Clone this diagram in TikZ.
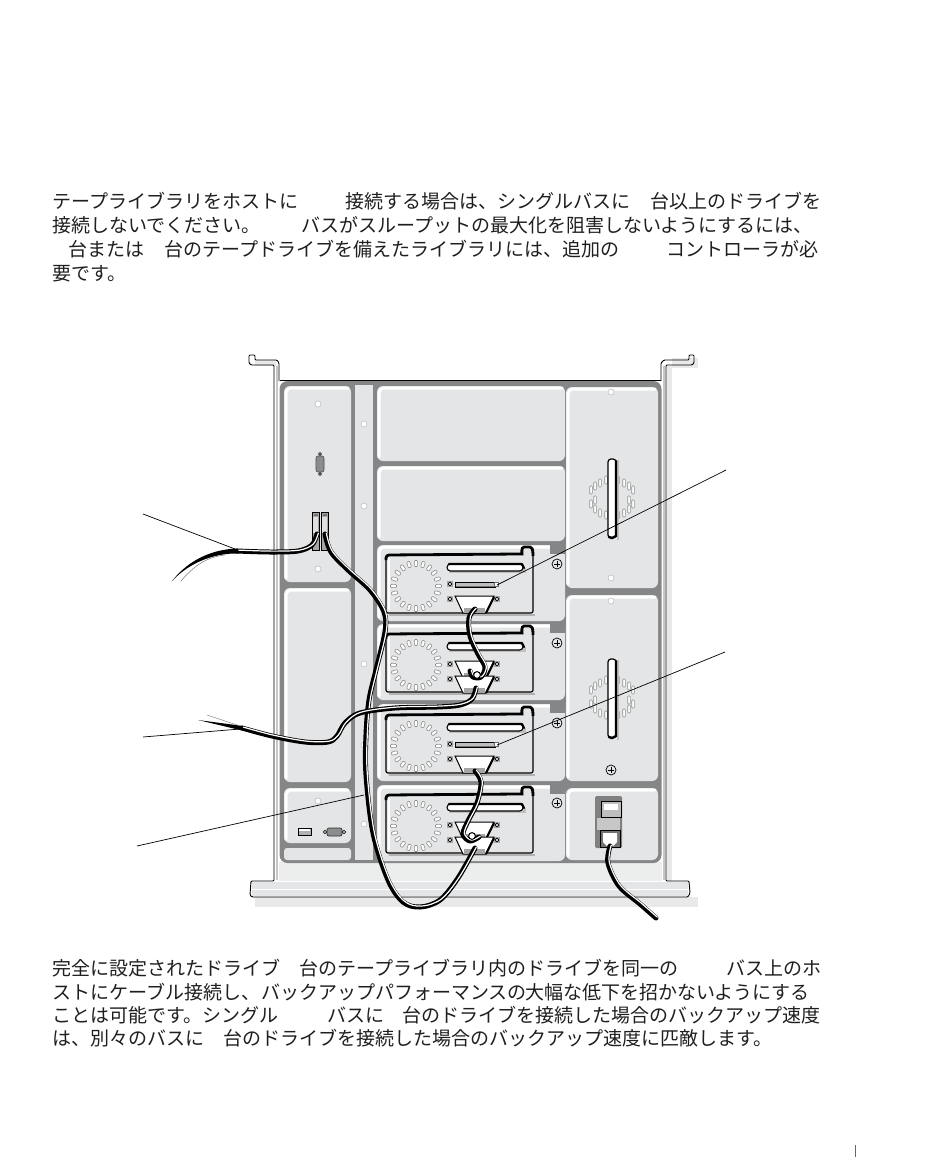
\documentclass[tikz,border=0pt]{standalone}
\usepackage{fontspec}
\newfontfamily\jp{Noto Sans CJK JP}
\definecolor{panelc}{HTML}{E4E5E6}
\definecolor{basec}{HTML}{858687}
\definecolor{shadowc}{HTML}{E9E9E9}
\tikzset{
  x=1pt,y=-1pt,
  txt/.style={inner sep=0,anchor=base west,font=\jp\fontsize{19}{19}\selectfont,text=black!88},
  leader/.style={draw=black,line width=.7},
  hole/.style={fill=white,draw=black!25,line width=.6},
  fanblock/.style={fill=white,draw=black!45,line width=.6,rounded corners=.8},
  cableb/.style={draw=black,line width=5,line cap=round,line join=round},
  cablew/.style={draw=white,line width=1.2,line cap=round,line join=round},
  port/.style={fill=black!35,draw=black,line width=.6},
}
\newcommand{\panelbox}[4]{%
  \fill[panelc,rounded corners=6] (#1,#2) rectangle (#3,#4);
  \draw[white,line width=3,rounded corners=5,line cap=round]
    (#1+2,#4-4) -- (#1+2,#2+2) -- (#3-3,#2+2);
}
\newcommand{\cablepath}[1]{%
  \draw[cableb] plot[smooth,tension=.55] coordinates {#1};
  \begin{scope}[shift={(1.3,-.9)}]
    \draw[cablew] plot[smooth,tension=.55] coordinates {#1};
  \end{scope}
}
\newcommand{\plusscrew}[2]{%
  \draw[fill=panelc,draw=black,line width=.7] (#1,#2) circle (5);
  \draw[black,line width=.7] (#1-2.8,#2) -- (#1+2.8,#2) (#1,#2-2.8) -- (#1,#2+2.8);
}
\newcommand{\smallscrew}[2]{%
  \fill[black!35] (#1-3.4,#2-3.4) rectangle (#1+3.4,#2+3.4);
  \draw[fill=white,draw=black,line width=.6] (#1,#2) circle (1.9);
}
\newcommand{\trapconn}[1]{% y of top
  \smallscrew{450}{#1+3}\smallscrew{497}{#1+3}
  \draw[fill=white,draw=black,line width=1] (455,#1) -- (494,#1) -- (486,#1+17) -- (463,#1+17) -- cycle;
  \fill[black!35] (464,#1+12) rectangle (485,#1+16.5);
  \draw[black,line width=2.2] (494,#1+1) -- (486,#1+17);
}
\newcommand{\drivebay}[2]{% top of bay, bottom
  \panelbox{377}{#1}{565}{#2}
  \fill[basec] (550,#1) -- (565,#1) -- (565,#1+9) -- (550,#1+9) -- cycle;
}
\newcommand{\drive}[2]{% y offset, kind (1 = slot, 2 = two connectors)
  \begin{scope}[shift={(0,#1)}]
    \fill[black!30] (389,614) rectangle (535,616);
    \draw[fill=panelc,draw=black,line width=1.2,rounded corners=2]
       (386,556) -- (386,613) -- (533,613) -- (533,552);
    \draw[black,line width=2.8,rounded corners=3]
       (386,560) -- (386,555) -- (519,554) .. controls (522,554) and (521,547) .. (527,547)
       .. controls (532,547) and (533,549) .. (533,556);
    \fill[white] (388,558) rectangle (389.5,610);
    \foreach \a in {0,18,...,342}{
      \begin{scope}[shift={(416,586)},rotate=\a]
        \draw[fanblock] (19.5,-1.6) rectangle (25.5,1.6);
      \end{scope}
    }
    \fill[black!25] (449,568) rectangle (526,573);
    \draw[fill=white,draw=black,line width=1.1,rounded corners=3.5] (447,564) rectangle (523,571);
    \draw[black,line width=2.2,line cap=round] (449,564) -- (522,564) (522,564) -- (524,568);
    \ifnum#2=1
      \smallscrew{450}{584}
      \draw[fill=black!25,draw=black,line width=1] (455,582) rectangle (495,587);
      \fill[black!55] (456,585.6) rectangle (494,586.5);
      \draw[draw=black!60,fill=white,line width=.5] (494,582.5) rectangle (498,586.5);
      \trapconn{596}
    \else
      \trapconn{582}
      \trapconn{597}
    \fi
  \end{scope}
}
\newcommand{\sidefan}[2]{% center x,y
  \begin{scope}[shift={(#1,#2)}]
    \foreach \dx/\dy in {-21/-8,-21/6,-17/-12,-17/2,-17/11,-12/-15,-12/15,-6/-18,-6/17,
                         21/-8,21/6,17/-12,17/2,17/11,12/-15,12/15,6/-18,6/17}{
      \draw[fanblock] (\dx-1.3,\dy-4) rectangle (\dx+1.3,\dy+4);
    }
    \fill[black!25] (5,-38) rectangle (6.5,42);
    \draw[fill=white,draw=black,line width=1.2,rounded corners=3] (-4,-39) rectangle (4,40);
    \draw[black,line width=2.4,line cap=round] (4,-37) -- (4,38) -- (0,40) -- (-3,39);
  \end{scope}
}
\begin{document}
\begin{tikzpicture}
\useasboundingbox (0,0) rectangle (950,1161);
\fill[white] (0,0) rectangle (950,1161);

% paragraph above
\node[txt] (t1a) at (52,208) {テープライブラリをホストに};
\node[txt] (t1b) at (345,208) {接続する場合は、シングルバスに};
\node[txt] (t1c) at (650,208) {台以上のドライブを};
\node[txt] (t2a) at (52,232) {接続しないでください。};
\node[txt] (t2b) at (301,232) {バスがスループットの最大化を阻害しないようにするには、};
\node[txt] (t3a) at (68,256) {台または};
\node[txt] (t3b) at (164,256) {台のテープドライブを備えたライブラリには、追加の};
\node[txt] (t3c) at (666,256) {コントローラが必};
\node[txt] (t4a) at (52,280) {要です。};

% paragraph below
\node[txt] (b1a) at (52,975) {完全に設定されたドライブ};
\node[txt] (b1b) at (299,975) {台のテープライブラリ内のドライブを同一の};
\node[txt] (b1c) at (726,975) {バス上のホ};
\node[txt] (b2a) at (52,999) {ストにケーブル接続し、};
\node[txt] (b2b) at (261,999) {バックアップパフォーマンスの};
\node[txt] (b2c) at (525,999) {大幅な低下を招かないようにする};
\node[txt] (b3a) at (52,1022) {ことは可能です。シングル};
\node[txt] (b3b) at (327,1022) {バスに};
\node[txt] (b3c) at (402,1022) {台のドライブを接続した場合のバックアップ速度};
\node[txt] (b4a) at (52,1045) {は、別々のバスに};
\node[txt] (b4b) at (223,1045) {台のドライブを接続した場合のバックアップ速度に匹敵します。};

% page mark
\draw[black!60,line width=1] (855,1145) -- (855,1157);

% shadows
\fill[shadowc] (255,897) rectangle (698,907);
\fill[shadowc] (667,366) rectangle (672,881);
\fill[shadowc] (255,360) rectangle (276,366);
\fill[shadowc] (672,358) rectangle (698,368);

% rack plate
\fill[panelc!70!white] (279,862) rectangle (662,881);
\fill[panelc] (252,882) rectangle (688,896);
\fill[white] (252,889) rectangle (688,890);
% rails and tabs
\draw[black,line width=.9,line join=round,rounded corners=1]
  (279,381) -- (279,363) -- (277,360) -- (255,360) -- (255,355) -- (249,355) -- (249,363) -- (251,365) -- (274,365) -- (274,881)
  -- (251,881) -- (250,895) -- (252,897) -- (688,897) -- (690,893) -- (689,881) -- (666,881) -- (666,365)
  -- (692,365) -- (694,363) -- (694,355) -- (689,355) -- (689,360) -- (664,360) -- (661,363) -- (661,381);
\fill[black!22] (275.5,366) rectangle (278,880);
\fill[black!22] (662.5,366) rectangle (665,880);

% chassis
\draw[black,line width=1] (280,380) -- (661,380);
\fill[basec,rounded corners=8] (279.5,381) rectangle (661.5,863);

% left panels
\panelbox{284}{386}{351}{582}
\panelbox{284}{588}{351}{782}
\panelbox{284}{788}{351}{843}
\fill[panelc,rounded corners=3] (284,848) rectangle (351,860);
% centre strip
\fill[panelc] (355,385) rectangle (373,860);
% blank bays
\panelbox{377}{386}{565}{461}
\panelbox{377}{466}{565}{541}
% right panels
\panelbox{566}{387}{658}{588}
\panelbox{566}{595}{658}{781}
\panelbox{566}{788}{658}{860}

% holes
\foreach \hx/\hy in {318/404,318/569,318/801,364/424,364/506,364/585,364/664,364/745,364/824,611/392,611/578,611/601}{
  \draw[hole] (\hx,\hy) circle (3);
}

% VGA vertical
\draw[fill=black!45,draw=black!70,line width=.6,rounded corners=2] (316,456) rectangle (324,472);
\draw[fill=black!30,draw=black,line width=.5] (320,454) circle (1.5) (320,474) circle (1.5);
% rear ports
\draw[port] (312,512) rectangle (319,550);
\draw[port] (321,512) rectangle (328,550);
\fill[black!12] (313,517) rectangle (318,533);
\fill[black!12] (322,517) rectangle (327,533);
\fill[black!55] (313.5,513.5) rectangle (317.5,516);
\fill[black!55] (322.5,513.5) rectangle (326.5,516);
% usb, vga
\draw[fill=black!30,draw=black,line width=.9] (298,828) rectangle (311,835);
\fill[white] (299,829) rectangle (310,831);
\draw[fill=black!45,draw=black!80,line width=.7,rounded corners=2] (327,828) rectangle (342,836);
\draw[fill=black!20,draw=black,line width=.5] (325,832) circle (1.7) (344,832) circle (1.7);

% drive bays
\drivebay{545}{621}
\drivebay{624}{700}
\drivebay{704}{781}
\drivebay{785}{861}
\drive{0}{1}
\drive{79}{2}
\drive{160}{1}
\drive{240}{2}
\plusscrew{557}{564}
\plusscrew{557}{643}
\plusscrew{557}{723}
\plusscrew{557}{803}
\plusscrew{611}{770}

% side fans
\sidefan{612}{498}
\sidefan{612}{698}

% power module
\fill[black!50,rounded corners=1.5] (595,796) rectangle (622,848);
\fill[black!22] (597,818) rectangle (620,830);
\draw[fill=black!25,draw=black,line width=.8] (601,801) rectangle (621,817);
\fill[white] (604,804) rectangle (618,810);
\draw[fill=black!55,draw=black,line width=.9] (600,830) rectangle (620,847);
\fill[white] (603,833) -- (617,833) -- (617,842) -- (613,846) -- (607,846) -- (603,842) -- cycle;

% cables
\cablepath{(317,534) (312,545) (298,551) (270,552) (237,551)}
\fill[black] (238,548.5) .. controls (215,549) and (190,558) .. (172,581) .. controls (190,562) and (215,553) .. (238,553.5) -- cycle;
\draw[black!55,line width=.5] (225,555) .. controls (205,557) and (192,568) .. (181,581);
\cablepath{(325,534) (331,552) (348,570) (370,590) (384,612) (385,632) (376,670) (369,700) (366,735) (366,775) (373,833) (388,880) (403,902) (420,907) (440,900) (458,878) (475,848)}
\cablepath{(475,609) (469,618) (470,636) (478,654) (485,667) (481,677) (473,677) (470,671)}
\draw[draw=black,fill=white,line width=1] (477,675) circle (3.4);
\cablepath{(476,688) (472,699) (460,705) (437,707) (395,708) (360,713) (345,723) (337,736) (328,742) (305,742) (272,736) (242,728)}
\fill[black] (243,726) -- (198,720) -- (242,730.5) -- cycle;
\draw[black!55,line width=.45] (240,726) -- (207,715);
\cablepath{(475,771) (481,782) (477,803) (468,821) (463,834) (470,841) (479,837)}
\draw[draw=black,fill=white,line width=1] (472,836) circle (3.4);
\cablepath{(610,846) (608,863) (619,886) (640,904) (656,918)}

% leaders
\coordinate (la1) at (143,514); \coordinate (la2) at (235,549);
\coordinate (lb1) at (143,737); \coordinate (lb2) at (240,729);
\coordinate (lc1) at (137,846); \coordinate (lc2) at (364,795);
\coordinate (ld1) at (726,470); \coordinate (ld2) at (497,585);
\coordinate (le1) at (725,652); \coordinate (le2) at (497,745);
\draw[leader] (la1) -- (la2);
\draw[leader] (lb1) -- (lb2);
\draw[leader] (lc1) -- (lc2);
\draw[leader] (ld1) -- (ld2);
\draw[leader] (le1) -- (le2);
\end{tikzpicture}
\end{document}
